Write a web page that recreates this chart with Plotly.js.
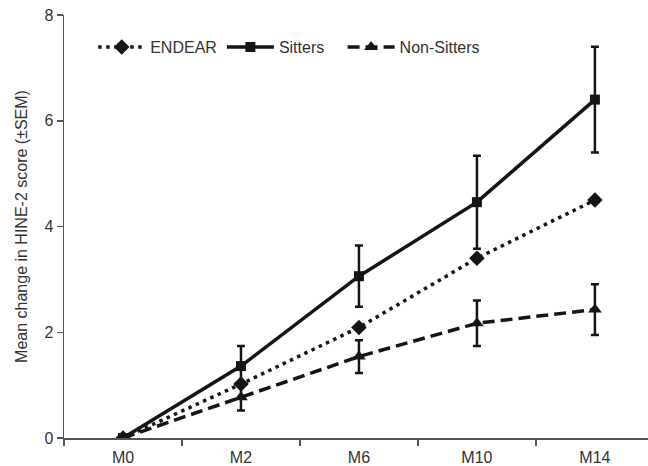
<!DOCTYPE html>
<html>
<head>
<meta charset="utf-8">
<script src="https://cdn.plot.ly/plotly-3.0.1.min.js"></script>
<style>html,body{margin:0;padding:0;background:#fff;}#chart{width:648px;height:466px;}</style>
</head>
<body>
<div id="chart"></div>
<script>
const visits = ["M0", "M2", "M6", "M10", "M14"];
const seriesNames = ["ENDEAR", "Sitters\u00a0\u00a0\u00a0", "Non-Sitters"];
const endear = [0, 1.02, 2.09, 3.40, 4.50];
const sitters = [0, 1.36, 3.06, 4.46, 6.40];
const sittersSem = [0, 0.38, 0.58, 0.88, 1.00];
const nonSitters = [0, 0.77, 1.54, 2.17, 2.43];
const nonSittersSem = [0, 0.25, 0.31, 0.43, 0.48];

const ink = "#151515";
const traces = [
  {
    x: visits, y: endear, name: seriesNames[0], type: "scatter", mode: "lines+markers",
    line: {color: ink, width: 3.5, dash: "3.5px,4.5px"},
    marker: {symbol: "diamond", size: 12, color: ink}
  },
  {
    x: visits, y: sitters, name: seriesNames[1], type: "scatter", mode: "lines+markers",
    line: {color: ink, width: 3.5},
    marker: {symbol: "square", size: 10, color: ink},
    error_y: {type: "data", array: sittersSem, visible: true, color: ink, thickness: 2.5, width: 4}
  },
  {
    x: visits, y: nonSitters, name: seriesNames[2], type: "scatter", mode: "lines+markers",
    line: {color: ink, width: 3.5, dash: "12px,6px"},
    marker: {symbol: "triangle-up", size: 12, color: ink},
    error_y: {type: "data", array: nonSittersSem, visible: true, color: ink, thickness: 2.5, width: 4}
  }
];

const layout = {
  width: 648, height: 466,
  margin: {l: 64, r: 0, t: 15, b: 28},
  paper_bgcolor: "#fff", plot_bgcolor: "#fff",
  font: {family: "Liberation Sans, Arial, sans-serif", size: 16, color: "#333"},
  showlegend: true,
  legend: {
    orientation: "h", x: 0.05, xanchor: "left", y: 0.924, yanchor: "middle",
    font: {size: 16, color: "#333"}, bgcolor: "rgba(0,0,0,0)", itemwidth: 47, tracegroupgap: 0
  },
  xaxis: {
    type: "category", range: [-0.5, 4.45], tickson: "boundaries",
    showline: true, linecolor: "#555", linewidth: 1.5,
    ticks: "outside", ticklen: 6, tickcolor: "#555", tickwidth: 1.5,
    ticklabelstandoff: 4,
    showgrid: false, zeroline: false, fixedrange: true,
    tickfont: {size: 16, color: "#333"}
  },
  yaxis: {
    range: [0, 8], tickvals: [0, 2, 4, 6, 8],
    showline: true, linecolor: "#555", linewidth: 1.5,
    ticks: "outside", ticklen: 6, tickcolor: "#555", tickwidth: 1.5,
    showgrid: false, zeroline: false,
    tickfont: {size: 16, color: "#333"},
    title: {text: "Mean change in HINE-2 score (±SEM)", font: {size: 16, color: "#333"}, standoff: 13}
  }
};

Plotly.newPlot("chart", traces, layout, {staticPlot: true, displayModeBar: false});
</script>
</body>
</html>
